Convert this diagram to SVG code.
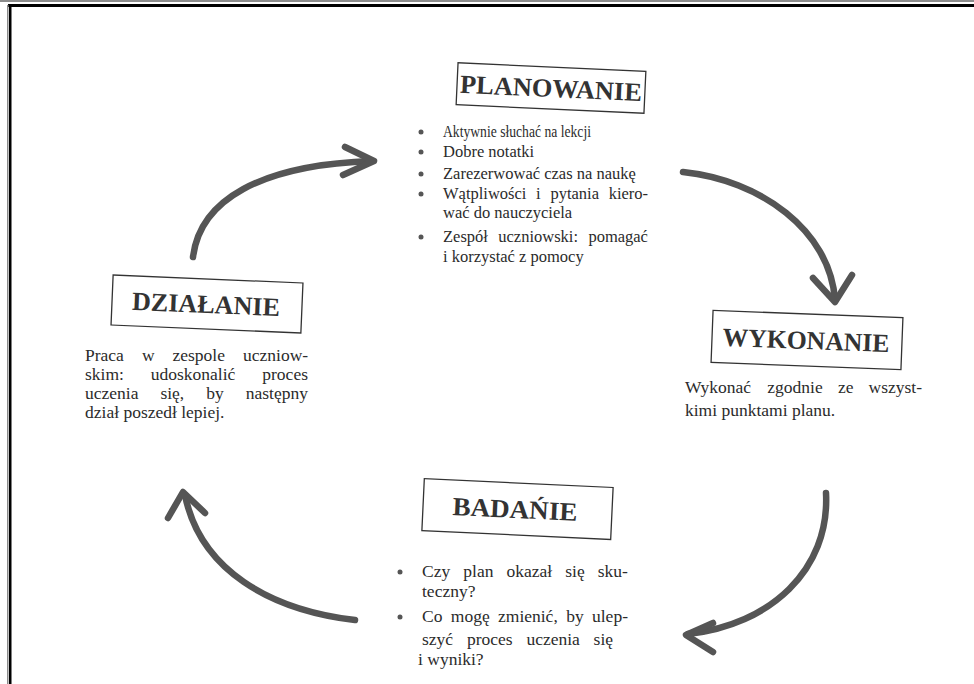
<svg xmlns="http://www.w3.org/2000/svg" width="974" height="684" viewBox="0 0 974 684">
<style>
.box{fill:none;stroke:#333;stroke-width:1.3}
.title{font-family:'Liberation Serif','DejaVu Serif',serif;font-weight:bold;font-size:26px;fill:#333;text-anchor:middle}
.body{font-family:'Liberation Serif','DejaVu Serif',serif;font-size:17.5px;fill:#2b2b2b}
.list{font-size:16.5px}
.dot{fill:#555}
.arc{fill:none;stroke:#555;stroke-width:6.5;stroke-linecap:round;stroke-linejoin:round}
</style>
<rect x="0" y="0" width="974" height="684" fill="#ffffff"/>
<g id="frame">
<rect x="0" y="0" width="974" height="2" fill="#8c8c8c"/>
<rect x="8" y="4" width="966" height="3" fill="#000"/>
<rect x="7" y="5" width="1.5" height="679" fill="#8c8c8c"/>
<rect x="9" y="4" width="2.5" height="680" fill="#000"/>
</g>
<g id="connectors">
<path class="arc" d="M193,257 C200,200 260,165 372,161"/>
<path class="arc" d="M345,147 L374,161 L343,175"/>
<path class="arc" d="M683,172 C760,180 830,230 835,300"/>
<path class="arc" d="M813,278 L835,302 L852,275"/>
<path class="arc" d="M826,493 C830,570 770,625 688,634"/>
<path class="arc" d="M713,623 L686,635 L713,652"/>
<path class="arc" d="M355,620 C270,610 200,570 185,495"/>
<path class="arc" d="M168,518 L183,492 L205,513"/>
</g>
<g id="planowanie">
<g transform="rotate(2.6 551 88)">
<rect class="box" x="457" y="67" width="188" height="42"/>
<text class="title" x="551" y="97" textLength="182" lengthAdjust="spacingAndGlyphs">PLANOWANIE</text>
</g>
<circle class="dot" cx="421" cy="132" r="2.5"/>
<circle class="dot" cx="421" cy="152" r="2.5"/>
<circle class="dot" cx="421" cy="174" r="2.5"/>
<circle class="dot" cx="421" cy="194" r="2.5"/>
<circle class="dot" cx="421" cy="237" r="2.5"/>
<text class="body list" x="443" y="137" textLength="148" lengthAdjust="spacingAndGlyphs">Aktywnie słuchać na lekcji</text>
<text class="body list" x="443" y="157">Dobre notatki</text>
<text class="body list" x="443" y="179">Zarezerwować czas na naukę</text>
<text class="body list" y="199"><tspan x="443">Wątpliwości</tspan> <tspan x="536">i</tspan> <tspan x="550.4">pytania</tspan> <tspan x="608.7">kiero-</tspan></text>
<text class="body list" x="443" y="218">wać do nauczyciela</text>
<text class="body list" y="242"><tspan x="443">Zespół</tspan> <tspan x="498.3">uczniowski:</tspan> <tspan x="588.4">pomagać</tspan></text>
<text class="body list" x="443" y="262">i korzystać z pomocy</text>
</g>
<g id="wykonanie">
<g transform="rotate(2.2 807 340)">
<rect class="box" x="712" y="314" width="190" height="52"/>
<text class="title" x="806" y="349" textLength="167" lengthAdjust="spacingAndGlyphs">WYKONANIE</text>
</g>
<text class="body" y="393"><tspan x="685">Wykonać</tspan> <tspan x="767.3">zgodnie</tspan> <tspan x="837.9">ze</tspan> <tspan x="868.6">wszyst-</tspan></text>
<text class="body" x="685" y="416">kimi punktami planu.</text>
</g>
<g id="badanie">
<g transform="rotate(2.7 517 509)">
<rect class="box" x="423" y="483" width="189" height="52"/>
<text class="title" x="515" y="518" textLength="125" lengthAdjust="spacingAndGlyphs">BADAŃIE</text>
</g>
<circle class="dot" cx="400" cy="572" r="2.5"/>
<circle class="dot" cx="400" cy="617" r="2.5"/>
<text class="body" y="577"><tspan x="422">Czy</tspan> <tspan x="463.3">plan</tspan> <tspan x="506.5">okazał</tspan> <tspan x="565.3">się</tspan> <tspan x="597.8">sku-</tspan></text>
<text class="body" x="422" y="597">teczny?</text>
<text class="body" y="622"><tspan x="422">Co</tspan> <tspan x="450.8">mogę</tspan> <tspan x="498">zmienić,</tspan> <tspan x="566.2">by</tspan> <tspan x="592">ulep-</tspan></text>
<text class="body" y="645"><tspan x="422">szyć</tspan> <tspan x="466.9">proces</tspan> <tspan x="526.4">uczenia</tspan> <tspan x="593.6">się</tspan></text>
<text class="body" x="418" y="665">i wyniki?</text>
</g>
<g id="dzialanie">
<g transform="rotate(2.4 207 304)">
<rect class="box" x="112" y="279" width="190" height="50"/>
<text class="title" x="206" y="313" textLength="148" lengthAdjust="spacingAndGlyphs">DZIAŁANIE</text>
</g>
<text class="body" y="361"><tspan x="85">Praca</tspan> <tspan x="141.9">w</tspan> <tspan x="172.5">zespole</tspan> <tspan x="243">uczniow-</tspan></text>
<text class="body" y="380"><tspan x="85">skim:</tspan> <tspan x="150.8">udoskonalić</tspan> <tspan x="262.3">proces</tspan></text>
<text class="body" y="399"><tspan x="85">uczenia</tspan> <tspan x="160.4">się,</tspan> <tspan x="206.2">by</tspan> <tspan x="245.7">następny</tspan></text>
<text class="body" x="85" y="418">dział poszedł lepiej.</text>
</g>
</svg>
